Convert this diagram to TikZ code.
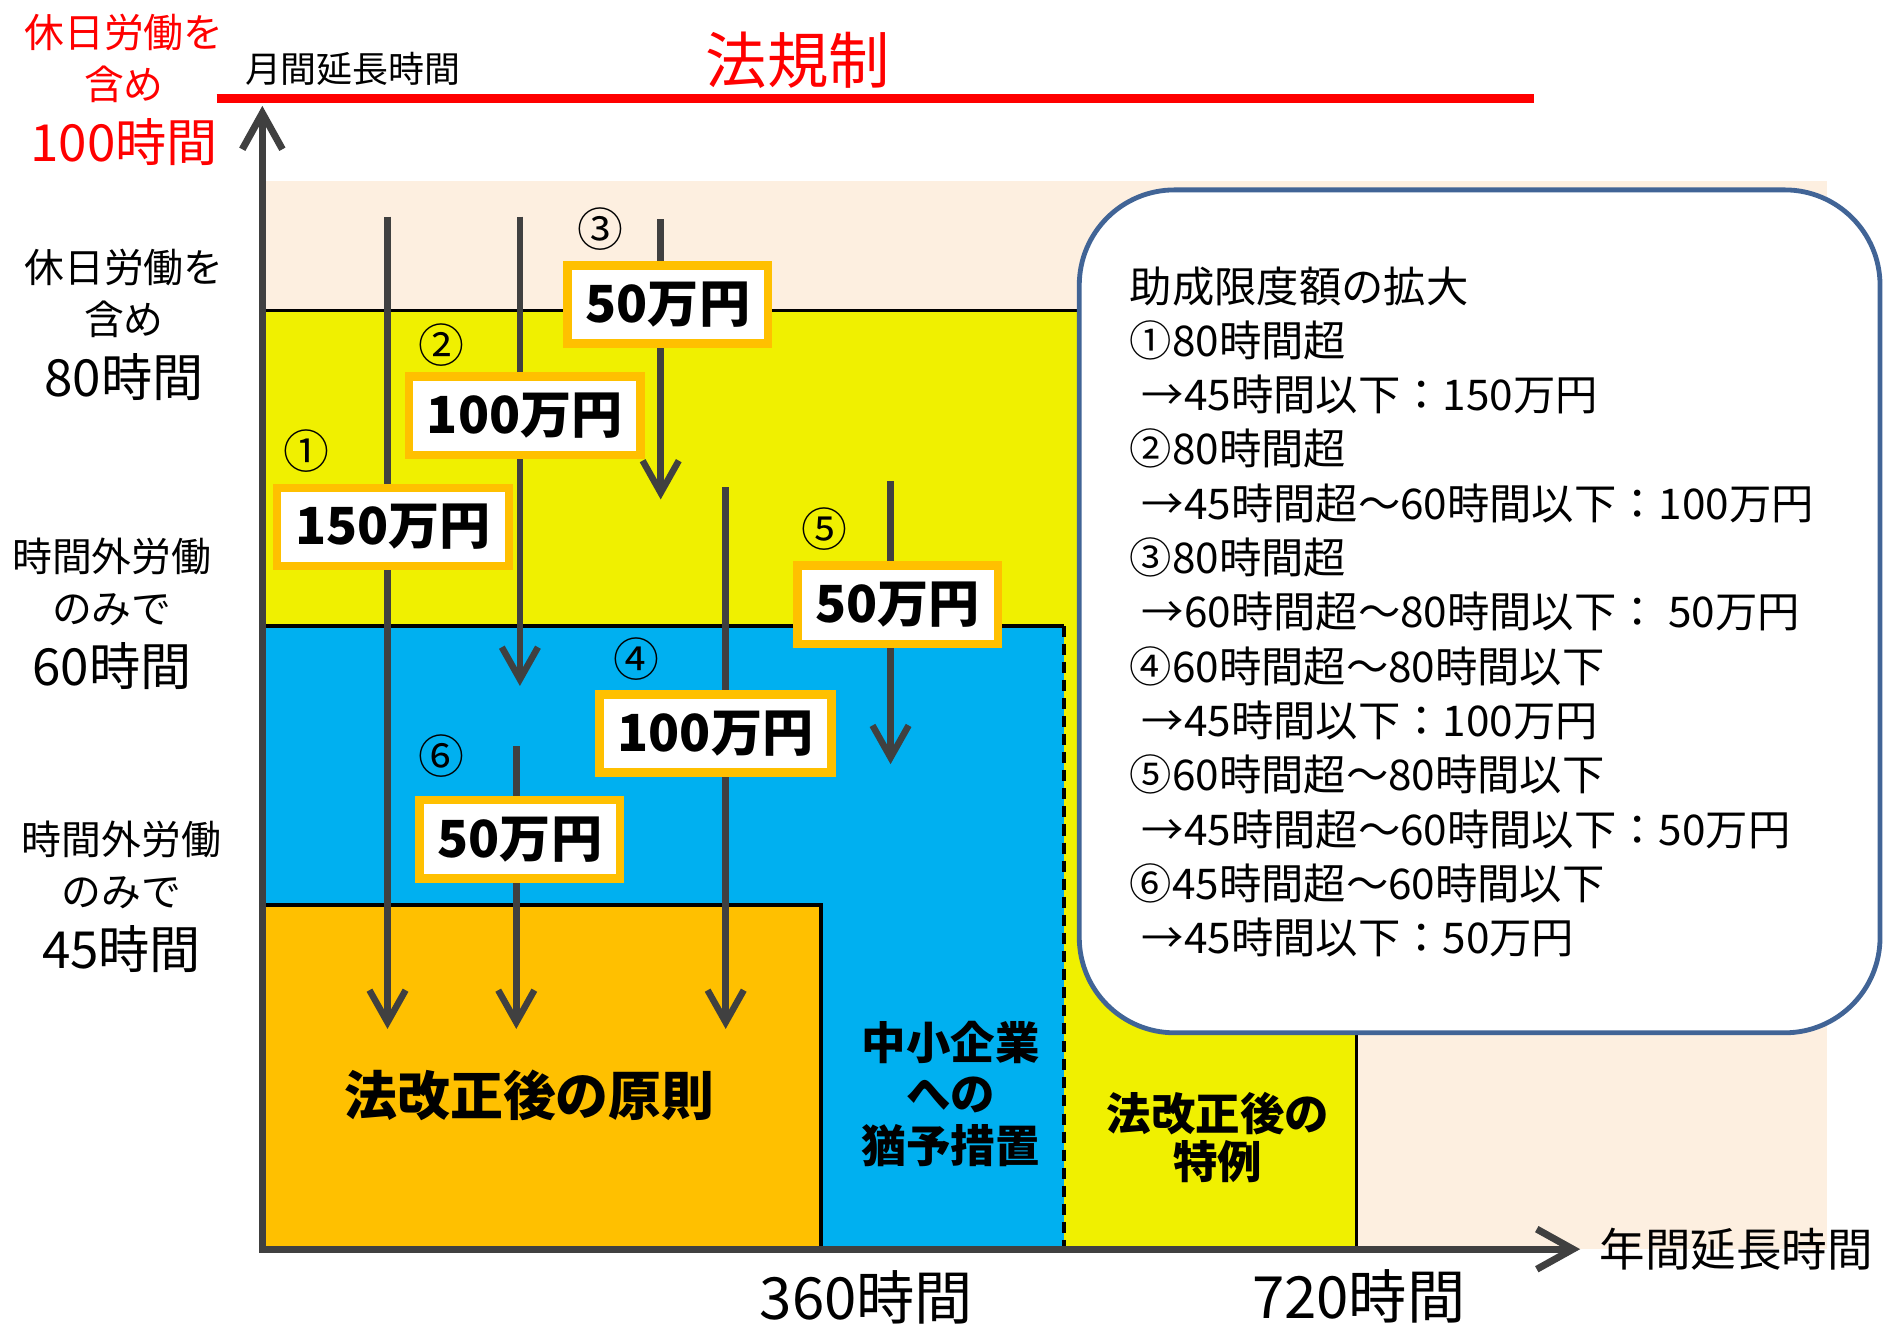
\documentclass[tikz,border=0pt]{standalone}
\usepackage{fontspec}
\setmainfont{Noto Sans CJK JP}
\usetikzlibrary{arrows.meta,positioning}

\definecolor{bandpeach}{RGB}{253,239,224}
\definecolor{specialyellow}{RGB}{240,240,0}
\definecolor{graceblue}{RGB}{0,176,240}
\definecolor{ruleorange}{RGB}{255,192,0}
\definecolor{arrowgray}{RGB}{64,64,64}
\definecolor{frameblue}{RGB}{65,100,150}
\definecolor{limitred}{RGB}{255,0,0}

\newcommand{\jpsize}[2]{\fontsize{#1}{#2}\selectfont}

\tikzset{
  axis/.style={draw=arrowgray, line width=0.07cm,
    {Straight Barb[length=0.36cm,width=0.40cm]}-{Straight Barb[length=0.36cm,width=0.40cm]}},
  cut/.style={draw=arrowgray, line width=0.065cm, -{Straight Barb[length=0.32cm,width=0.36cm]}},
  moneybox/.style={draw=ruleorange, line width=0.084cm, fill=white, inner xsep=0.18cm,
    minimum height=0.78cm, font=\jpsize{14.5pt}{17pt}\bfseries},
  circnum/.style={inner sep=0pt, font=\jpsize{13pt}{15pt}},
  hourlabel/.style={align=center, font=\jpsize{11.3pt}{14.7pt}},
  region/.style={line width=0.036cm},
}

\begin{document}
\begin{tikzpicture}[x=0.012cm, y=-0.012cm]
  \useasboundingbox (0,0) rectangle (1568,1101);

  % areas
  \fill[bandpeach] (218,150) rectangle (1518,1038);
  \filldraw[region, fill=specialyellow] (218,258) rectangle (1127,1038);
  \fill[graceblue] (218,520) rectangle (884,1038);
  \draw[region] (218,520) -- (884,520);
  \draw[region, dash pattern=on 0.11cm off 0.07cm] (884,520) -- (884,1038);
  \filldraw[region, fill=ruleorange] (218,752) rectangle (682,1038);

  % arrows with amounts
  \foreach \n/\num/\amount/\x/\ytop/\yend/\bx/\by/\cx/\cy in {
      1/①/150万円/322/180/855/326.5/438/255/375,
      2/②/100万円/432/180/570/436/345.5/367/287,
      3/③/50万円/549/182/415/555/253/499/190,
      4/④/100万円/603/405/855/594.5/609.5/529/548,
      5/⑤/50万円/740/400/635/746/502.5/685/440,
      6/⑥/50万円/429/620/855/432/697.5/367/628}
  {
    \coordinate (s\n) at (\x,\ytop);
    \coordinate (e\n) at (\x,\yend);
    \draw[cut] (s\n) -- (e\n);
    \node[moneybox] (m\n) at (\bx,\by) {\amount};
    \node[circnum] (c\n) at (\cx,\cy) {\num};
  }

  % region texts
  \node[font=\jpsize{15pt}{18pt}\bfseries] (principle) at (440,910) {法改正後の原則};
  \node[align=center, font=\jpsize{12.6pt}{14.7pt}\bfseries] (grace) at (790,909) {中小企業\\への\\猶予措置};
  \node[align=center, font=\jpsize{12.6pt}{13.7pt}\bfseries] (special) at (1012,945) {法改正後の\\特例};

  % info box
  \node[draw=frameblue, line width=0.048cm, fill=white, rounded corners=0.95cm,
    minimum width=7.98cm, minimum height=8.4cm] (infobox) at (1229.5,508) {};
  \node[below right=0.78cm and 0.52cm of infobox.north west, align=left, inner sep=0pt,
    font=\jpsize{12pt}{15.4pt}] (infotext) {助成限度額の拡大\\
    ①80時間超\\
    \hspace{0.12cm}→45時間以下：150万円\\
    ②80時間超\\
    \hspace{0.12cm}→45時間超～60時間以下：100万円\\
    ③80時間超\\
    \hspace{0.12cm}→60時間超～80時間以下： 50万円\\
    ④60時間超～80時間以下\\
    \hspace{0.12cm}→45時間以下：100万円\\
    ⑤60時間超～80時間以下\\
    \hspace{0.12cm}→45時間超～60時間以下：50万円\\
    ⑥45時間超～60時間以下\\
    \hspace{0.12cm}→45時間以下：50万円};

  % hour labels
  \node[hourlabel, text=limitred] (limit100) at (103,75) {休日労働を\\含め\\[2.9pt]{\jpsize{14.5pt}{14.7pt}100時間}};
  \node[hourlabel] (holiday80) at (103,270) {休日労働を\\含め\\[2.9pt]{\jpsize{14.5pt}{14.7pt}80時間}};
  \node[hourlabel] (overtime60) at (93,510) {時間外労働\\のみで\\[2.9pt]{\jpsize{14.5pt}{14.7pt}60時間}};
  \node[hourlabel] (overtime45) at (101,745) {時間外労働\\のみで\\[2.9pt]{\jpsize{14.5pt}{14.7pt}45時間}};

  % axes
  \coordinate (origin) at (218,1038);
  \coordinate (ytip) at (218,88);
  \coordinate (xtip) at (1313,1038);
  \draw[axis] (ytip) -- (origin) -- (xtip);
  \node[right=0.19cm of xtip, inner sep=0pt, font=\jpsize{12.9pt}{16pt}] (yearaxis) {年間延長時間};
  \node[anchor=west, inner sep=0pt, font=\jpsize{10.2pt}{12pt}] (monthaxis) at (203,57) {月間延長時間};
  \node[font=\jpsize{16.5pt}{20pt}] (h360) at (720,1078) {360時間};
  \node[font=\jpsize{16.5pt}{20pt}] (h720) at (1129,1077) {720時間};

  % legal limit
  \coordinate (limitleft) at (180,82);
  \coordinate (limitright) at (1275,82);
  \draw[limitred, line width=0.096cm] (limitleft) -- (limitright);
  \node[text=limitred, font=\jpsize{17.4pt}{20pt}] (lawlimit) at (663,50) {法規制};
\end{tikzpicture}
\end{document}
